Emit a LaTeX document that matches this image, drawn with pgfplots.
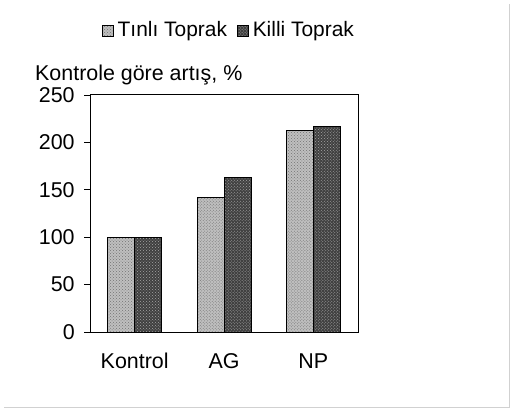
\documentclass[border=0pt]{standalone}
\usepackage{pgfplots}
\pgfplotsset{compat=1.18}
\usepackage{fontspec}
\setmainfont{Liberation Sans}
\usetikzlibrary{patterns}
\begin{document}
\begin{tikzpicture}[x=1bp,y=1bp]
\fontsize{21.5}{25}\selectfont
\path (0,0) rectangle (513,412);
\draw[black!18, line width=0.8bp] (4,5) -- (509,5) -- (509,408);
\begin{axis}[
  at={(90bp,80bp)}, anchor=south west,
  scale only axis, width=268bp, height=237bp,
  ybar=0pt, bar width=27bp,
  xmin=-0.5, xmax=2.5, ymin=0, ymax=250,
  xtick=data, xticklabels={Kontrol,AG,NP},
  ytick={0,50,...,250},
  major x tick style={draw=none},
  tick align=outside, major tick length=6bp,
  ytick pos=left,
  axis line style={line width=1bp},
  every tick/.style={black, line width=0.8bp},
  /pgf/number format/assume math mode=true,
  tick label style={font=\fontsize{21.5}{25}\selectfont},
  xticklabel style={yshift=-8bp},
  yticklabel style={xshift=-2bp},
  legend columns=2,
  legend style={draw=none, at={(0.522,1.27)}, anchor=center, font=\fontsize{21}{24}\selectfont, inner sep=0bp,
    nodes={inner xsep=4bp},
    /tikz/every even column/.append style={column sep=6bp}},
  legend image code/.code={\draw[#1, draw=black] (0bp,-5.5bp) rectangle (11bp,5.5bp);},
]
\addplot[draw=black, line width=0.8bp, fill=black!25, postaction={pattern=crosshatch dots, pattern color=black!55}] coordinates {(0,100) (1,142) (2,213)};
\addplot[draw=black, line width=0.8bp, fill=black!75, postaction={pattern=crosshatch dots, pattern color=black!35}] coordinates {(0,100) (1,163) (2,217)};
\legend{Tınlı Toprak, Killi Toprak}
\end{axis}
\node[anchor=base west, inner sep=0] at (35,332) {Kontrole göre artış, \%};
\end{tikzpicture}
\end{document}
